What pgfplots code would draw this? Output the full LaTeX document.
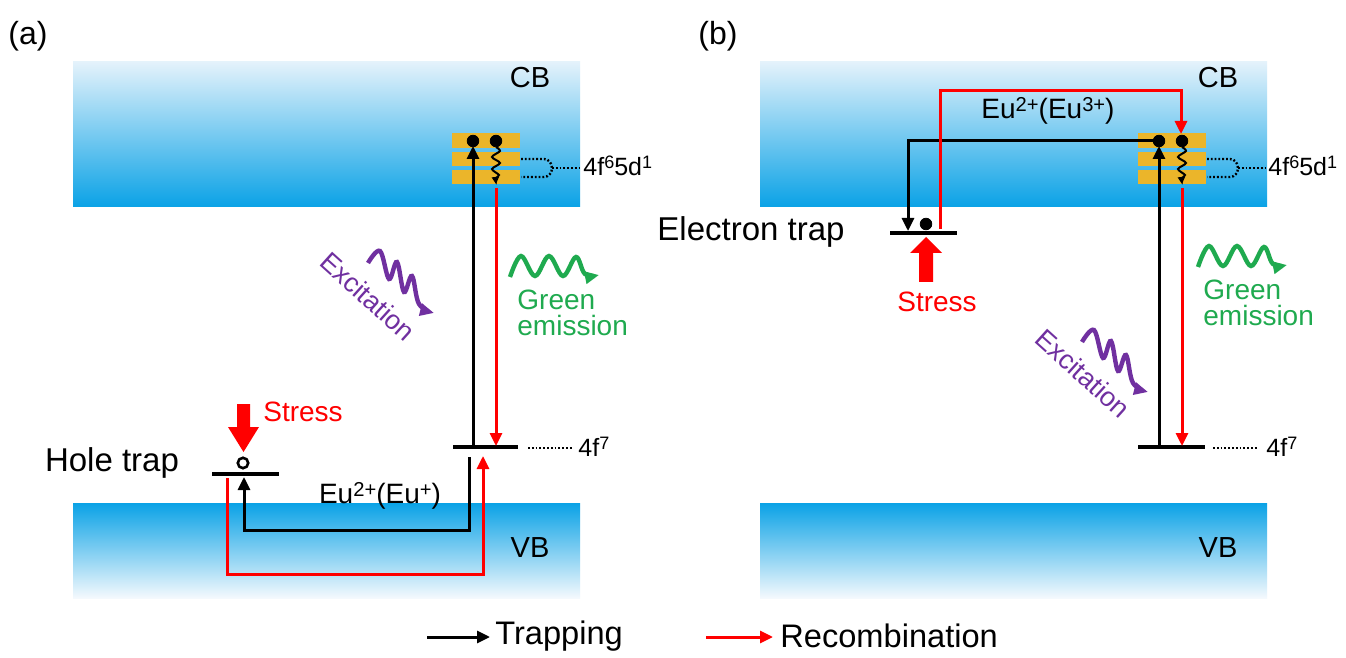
\documentclass[border=0pt]{standalone}
\usepackage{fontspec}
\setmainfont{Liberation Sans}
\usepackage{pgfplots}
\pgfplotsset{compat=1.18}
\usetikzlibrary{arrows.meta}
\usepackage{graphicx}
\definecolor{bandblue}{HTML}{0AA2E6}
\definecolor{bandlight}{HTML}{E4F2FB}
\definecolor{bandfade}{HTML}{F4F9FD}
\definecolor{orb}{HTML}{EBB52A}
\definecolor{purp}{HTML}{7030A0}
\definecolor{grn}{HTML}{1FAA4F}
\definecolor{myred}{HTML}{FF0000}
\tikzset{
  arrb/.style={line width=1.5pt, -{Triangle[length=6.5pt,width=6pt]}, line join=miter},
  arrs/.style={line width=1pt, -{Triangle[length=3.5pt,width=3.5pt]}},
  wav/.style={line width=2.2pt, smooth, tension=0.6, -{Triangle[length=7pt,width=6pt]}},
  dotl/.style={line width=1.2pt, dash pattern=on 0.9pt off 1pt},
  lev/.style={line width=1.7pt, black},
}
\newcommand{\fs}[1]{\fontsize{#1}{#1}\selectfont}
\newcommand{\su}[1]{\raisebox{0.27em}{\scalebox{0.72}{#1}}}
\begin{document}
\begin{tikzpicture}
\begin{axis}[width=673pt,height=329pt,scale only axis,
  xmin=0,xmax=1346,ymin=0,ymax=658,y dir=reverse,
  hide axis,clip=false,no markers]
\path[fill=white] (axis cs:0,0) rectangle (axis cs:1346,658);
% ---------- bands ----------
\path[top color=bandlight,bottom color=bandblue] (axis cs:73,62) rectangle (axis cs:580,207);
\path[top color=bandblue,bottom color=bandfade] (axis cs:73,503) rectangle (axis cs:580,598);
\path[top color=bandlight,bottom color=bandblue] (axis cs:760,62) rectangle (axis cs:1267,207);
\path[top color=bandblue,bottom color=bandfade] (axis cs:760,503) rectangle (axis cs:1267,598);
% ---------- orbital boxes ----------
\addplot[fill=orb,draw=none] coordinates {(452,133) (520,133) (520,148) (452,148)} --cycle;
\addplot[fill=orb,draw=none] coordinates {(452,152) (520,152) (520,166) (452,166)} --cycle;
\addplot[fill=orb,draw=none] coordinates {(452,170) (520,170) (520,184) (452,184)} --cycle;
\addplot[fill=orb,draw=none] coordinates {(1138,133) (1206,133) (1206,148) (1138,148)} --cycle;
\addplot[fill=orb,draw=none] coordinates {(1138,152) (1206,152) (1206,166) (1138,166)} --cycle;
\addplot[fill=orb,draw=none] coordinates {(1138,170) (1206,170) (1206,184) (1138,184)} --cycle;
% brackets
\draw[dotl] (axis cs:521,159) -- (axis cs:544,159) to[out=0,in=90] (axis cs:552,168) to[out=-90,in=0] (axis cs:544,177) -- (axis cs:521,177);
\draw[dotl] (axis cs:552,168) -- (axis cs:579,168);
\draw[dotl] (axis cs:1207,159) -- (axis cs:1230,159) to[out=0,in=90] (axis cs:1238,168) to[out=-90,in=0] (axis cs:1230,177) -- (axis cs:1207,177);
\draw[dotl] (axis cs:1238,168) -- (axis cs:1265,168);
% ---------- panel (a) ----------
\addplot[lev] coordinates {(453,447) (518,447)};
\addplot[lev] coordinates {(212,474) (279,474)};
\addplot[dotl] coordinates {(528,448) (573,448)};
\addplot[arrb,black] coordinates {(473,447) (473,146)};
\addplot[arrs,smooth,tension=0.5] coordinates {(496,147) (500,151) (492,157) (500,163) (492,169) (499,175) (496,178) (496,184)};
\addplot[arrb,myred] coordinates {(496,188) (496,446)};
\addplot[arrb,black,sharp plot] coordinates {(469,457) (469,530) (244,530) (244,477)};
\addplot[arrb,myred,sharp plot] coordinates {(227,478) (227,574) (483,574) (483,456)};
\addplot[only marks,mark=*,mark size=2.6pt,mark options={line width=1.3pt,draw=black,fill=white}] coordinates {(243,463)};
\addplot[only marks,mark=*,mark size=2.9pt,black] coordinates {(473,141) (496,141)};
\addplot[fill=myred,draw=none] coordinates {(237,404) (250,404) (250,427) (259,427) (243.5,452) (228,427) (237,427)} --cycle;
\addplot[wav,grn] coordinates {(510,277) (521,256) (535,276) (549,256) (563,276) (576,257) (585,274) (599,275)};
\addplot[wav,purp] coordinates {(368,263) (380,251) (389,279) (397,262) (404,292) (412,276) (419,304) (434,313)};
% ---------- panel (b) ----------
\addplot[lev] coordinates {(1138,447) (1205,447)};
\addplot[lev] coordinates {(890,233) (957,233)};
\addplot[dotl] coordinates {(1213,448) (1258,448)};
\addplot[arrb,black] coordinates {(1159,447) (1159,146)};
\addplot[arrs,smooth,tension=0.5] coordinates {(1182,147) (1186,151) (1178,157) (1186,163) (1178,169) (1185,175) (1182,178) (1182,184)};
\addplot[arrb,myred] coordinates {(1182,188) (1182,446)};
\addplot[arrb,black,sharp plot] coordinates {(1158,141) (908,141) (908,231)};
\addplot[arrb,myred,sharp plot] coordinates {(940,229) (940,91) (1181,91) (1181,134)};
\addplot[only marks,mark=*,mark size=2.9pt,black] coordinates {(1159,141) (1182,141) (926,224)};
\addplot[fill=myred,draw=none] coordinates {(926,237) (942,253) (933,253) (933,282) (919,282) (919,253) (910,253)} --cycle;
\addplot[wav,grn] coordinates {(1198,267) (1209,246) (1223,266) (1237,246) (1251,266) (1264,247) (1273,264) (1287,265)};
\addplot[wav,purp] coordinates {(1082,342) (1094,330) (1103,358) (1111,341) (1118,371) (1126,355) (1133,383) (1148,392)};
% ---------- legend ----------
\addplot[arrb,black] coordinates {(427,637) (490,637)};
\addplot[arrb,myred] coordinates {(706,637) (773,637)};
% ---------- texts ----------
\node[font=\fs{16}] at (axis cs:28,36) {(a)};
\node[font=\fs{16}] at (axis cs:718,36) {(b)};
\node[font=\fs{14.5}] at (axis cs:530,78) {CB};
\node[font=\fs{14.5}] at (axis cs:1218,78) {CB};
\node[font=\fs{14.5}] at (axis cs:530,548) {VB};
\node[font=\fs{14.5}] at (axis cs:1218,548) {VB};
\node[font=\fs{12.5},anchor=west,inner sep=0pt] at (axis cs:583,166) {4f\su{6}5d\su{1}};
\node[font=\fs{12.5},anchor=west,inner sep=0pt] at (axis cs:1268,166) {4f\su{6}5d\su{1}};
\node[font=\fs{12.5},anchor=west,inner sep=0pt] at (axis cs:578,447) {4f\su{7}};
\node[font=\fs{12.5},anchor=west,inner sep=0pt] at (axis cs:1266,447) {4f\su{7}};
\node[font=\fs{16.5}] at (axis cs:112,463) {Hole trap};
\node[font=\fs{16.5}] at (axis cs:751,232) {Electron trap};
\node[font=\fs{14},text=myred] at (axis cs:303,412) {Stress};
\node[font=\fs{14},text=myred] at (axis cs:937,302) {Stress};
\node[font=\fs{14}] at (axis cs:380,496) {Eu\su{2+}(Eu\su{+})};
\node[font=\fs{14}] at (axis cs:1048,111) {Eu\su{2+}(Eu\su{3+})};
\node[font=\fs{14},text=grn,anchor=west,inner sep=0pt] at (axis cs:517,300) {Green};
\node[font=\fs{14},text=grn,anchor=west,inner sep=0pt] at (axis cs:517,325) {emission};
\node[font=\fs{14},text=grn,anchor=west,inner sep=0pt] at (axis cs:1203,290) {Green};
\node[font=\fs{14},text=grn,anchor=west,inner sep=0pt] at (axis cs:1203,315) {emission};
\node[font=\fs{13.5},text=purp,rotate=-42] at (axis cs:368,296) {Excitation};
\node[font=\fs{13.5},text=purp,rotate=-42] at (axis cs:1083,373) {Excitation};
\node[font=\fs{16.3},anchor=west,inner sep=0pt] at (axis cs:495,636) {Trapping};
\node[font=\fs{16.3},anchor=west,inner sep=0pt] at (axis cs:780,636) {Recombination};
\end{axis}
\end{tikzpicture}
\end{document}
